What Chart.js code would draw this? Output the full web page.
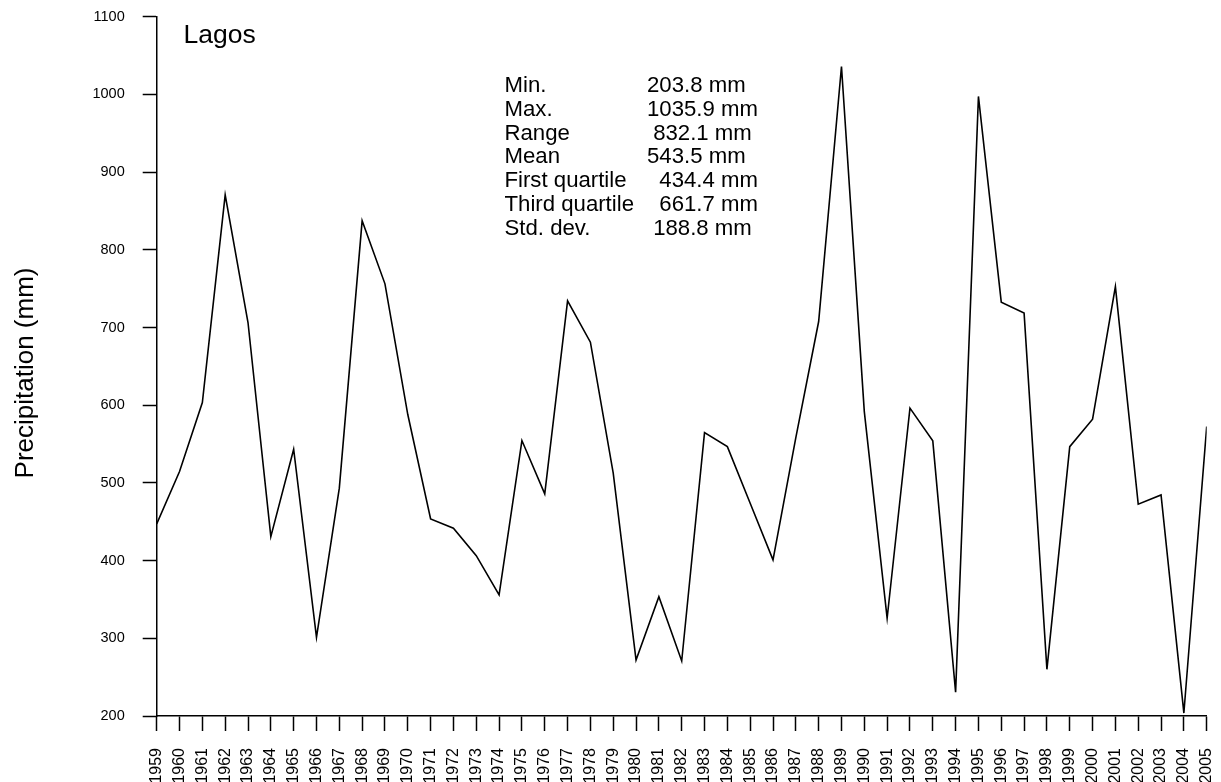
<!DOCTYPE html>
<html>
<head>
<meta charset="utf-8">
<title>Lagos annual precipitation</title>
<script src="https://cdn.jsdelivr.net/npm/chart.js@4.4.1/dist/chart.umd.min.js"></script>
<style>
  html, body { margin: 0; padding: 0; background: #fff; overflow: hidden; }
  #wrap { position: relative; width: 1221px; height: 782px; overflow: hidden; }
  canvas { display: block; }
</style>
</head>
<body>
<div id="wrap"><canvas id="chart" width="1221" height="800"></canvas></div>
<script>
// Annual precipitation at Lagos, 1959-2005 (mm)
const years = [
  1959, 1960, 1961, 1962, 1963, 1964, 1965, 1966, 1967, 1968,
  1969, 1970, 1971, 1972, 1973, 1974, 1975, 1976, 1977, 1978,
  1979, 1980, 1981, 1982, 1983, 1984, 1985, 1986, 1987, 1988,
  1989, 1990, 1991, 1992, 1993, 1994, 1995, 1996, 1997, 1998,
  1999, 2000, 2001, 2002, 2003, 2004, 2005
];
const precipitation = [
  447.2, 514.6, 603.4, 870.8, 706.4, 430.9, 543.4, 301.3, 493.2, 837.3,
  756.2, 588.0, 453.6, 441.7, 406.4, 355.8, 554.5, 485.8, 734.3, 681.1,
  512.5, 272.1, 353.6, 270.8, 564.8, 546.7, 473.8, 400.9, 558.3, 707.7,
  1035.9, 591.8, 325.8, 596.2, 554.1, 230.5, 997.4, 732.6, 718.5, 260.1,
  546.7, 582.0, 752.7, 472.6, 484.5, 203.8, 572.5
];
const yTickValues = [200, 300, 400, 500, 600, 700, 800, 900, 1000, 1100];

const stationName = 'Lagos';
const axisTitle = 'Precipitation (mm)';
const statLabels = ['Min.', 'Max.', 'Range', 'Mean', 'First quartile', 'Third quartile', 'Std. dev.'];
const statValues = ['203.8 mm', '1035.9 mm', '832.1 mm', '543.5 mm', '434.4 mm', '661.7 mm', '188.8 mm'];

// ---- drawing ----
const FONT = '"Liberation Sans", Arial, Helvetica, sans-serif';
const statIndent = [0, 0, 1, 0, 2, 2, 1];   // leading spaces in the value column

const textLayer = {
  id: 'textLayer',
  afterDraw(chart) {
    const ctx = chart.ctx;
    ctx.save();
    ctx.fillStyle = '#000';
    ctx.textAlign = 'left';
    ctx.textBaseline = 'alphabetic';

    ctx.font = '26.5px ' + FONT;
    ctx.fillText(stationName, 183.5, 42.7);

    ctx.font = '22.2px ' + FONT;
    const sp = ctx.measureText(' ').width;
    statLabels.forEach((lab, i) => {
      const yb = 92.3 + i * 23.7;
      ctx.fillText(lab, 504.5, yb);
      ctx.fillText(statValues[i], 647 + statIndent[i] * sp, yb);
    });

    ctx.translate(33, 373);
    ctx.rotate(-Math.PI / 2);
    ctx.textAlign = 'center';
    ctx.font = '26px ' + FONT;
    ctx.fillText(axisTitle, 0, 0);
    ctx.restore();
  }
};

const points = years.map((yr, i) => ({ x: yr, y: precipitation[i] }));

new Chart(document.getElementById('chart').getContext('2d'), {
  type: 'line',
  data: {
    datasets: [{
      data: points,
      borderColor: '#000',
      borderWidth: 1.6,
      pointRadius: 0,
      tension: 0,
      fill: false
    }]
  },
  options: {
    responsive: false,
    animation: false,
    devicePixelRatio: 1,
    layout: { padding: { top: 16.7, right: 14.3, left: 0, bottom: 0 } },
    plugins: { legend: { display: false }, tooltip: { enabled: false } },
    scales: {
      x: {
        type: 'linear',
        min: years[0],
        max: years[years.length - 1],
        afterBuildTicks: s => { s.ticks = years.map(v => ({ value: v })); },
        afterFit: s => { s.height = 84; s.paddingLeft = 0; s.paddingRight = 0; },
        ticks: {
          autoSkip: false,
          minRotation: 90,
          maxRotation: 90,
          padding: 17,
          color: '#000',
          font: { family: FONT, size: 16 },
          callback: v => String(v)
        },
        grid: { drawOnChartArea: false, drawTicks: true, tickLength: 15, tickColor: '#000', tickWidth: 1.5 },
        border: { display: true, color: '#000', width: 1.5 }
      },
      y: {
        type: 'linear',
        min: yTickValues[0],
        max: yTickValues[yTickValues.length - 1],
        afterBuildTicks: s => { s.ticks = yTickValues.map(v => ({ value: v })); },
        afterFit: s => { s.width = 156.7; s.paddingTop = 0; s.paddingBottom = 0; },
        ticks: {
          padding: 18,
          color: '#000',
          font: { family: FONT, size: 14.5 },
          callback: v => String(v)
        },
        grid: { drawOnChartArea: false, drawTicks: true, tickLength: 14, tickColor: '#000', tickWidth: 1.5 },
        border: { display: true, color: '#000', width: 1.5 }
      }
    }
  },
  plugins: [textLayer]
});
</script>
</body>
</html>
